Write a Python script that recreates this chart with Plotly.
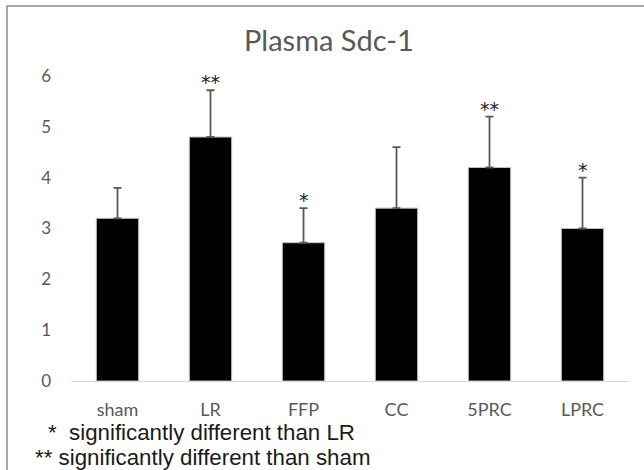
import plotly.graph_objects as go

categories = ["sham", "LR", "FFP", "CC", "5PRC", "LPRC"]
means = [3.2, 4.8, 2.72, 3.4, 4.2, 3.0]
errors = [0.6, 0.92, 0.68, 1.2, 1.0, 1.0]
sig_marks = ["", "**", "*", "", "**", "*"]
y_ticks = [0, 1, 2, 3, 4, 5, 6]
title_text = "Plasma Sdc-1"
footnotes = ["*  significantly different than LR", "** significantly different than sham"]

W, H = 644, 470
L, R, T, B = 71, 15, 76, 89
pw, ph = W - L - R, H - T - B

fig = go.Figure()
fig.add_trace(go.Bar(
    x=categories, y=means,
    marker=dict(color="black", line=dict(color="#bfbfbf", width=1)),
    error_y=dict(type="data", array=errors, arrayminus=[0]*len(errors), symmetric=False,
                 color="#595959", thickness=1.8, width=4),
    width=0.455,
))

for c, m, e, s in zip(categories, means, errors, sig_marks):
    if s:
        fig.add_annotation(x=c, y=m + e, text=s, showarrow=False, yshift=8, yanchor="middle",
                           font=dict(size=19, color="#222222", family="DejaVu Sans"))

def px_x(p):
    return (p - L) / pw

def px_y(p):
    return (H - B - p) / ph

fig.add_annotation(xref="paper", yref="paper", x=px_x(329), y=px_y(40), text=title_text,
                   showarrow=False, font=dict(size=29, color="#595959", family="Lato"),
                   xanchor="center", yanchor="middle")
fig.add_annotation(xref="paper", yref="paper", x=px_x(46), y=px_y(432), text=footnotes[0],
                   showarrow=False, font=dict(size=22.3, color="#1a1a1a", family="Liberation Sans"),
                   xanchor="left", yanchor="middle")
fig.add_annotation(xref="paper", yref="paper", x=px_x(33), y=px_y(457), text=footnotes[1],
                   showarrow=False, font=dict(size=22.3, color="#1a1a1a", family="Liberation Sans"),
                   xanchor="left", yanchor="middle")

fig.add_shape(type="rect", xref="paper", yref="paper",
              x0=px_x(7), x1=px_x(670), y0=px_y(500), y1=px_y(6),
              line=dict(color="#8c8c8c", width=1.5), fillcolor="rgba(0,0,0,0)", layer="below")

fig.update_layout(
    width=W, height=H,
    margin=dict(l=L, r=R, t=T, b=B),
    paper_bgcolor="white", plot_bgcolor="white",
    showlegend=False,
    font=dict(family="Lato", color="#595959", size=14),
)
fig.update_xaxes(showgrid=False, showline=True, linecolor="#d9d9d9", linewidth=1.2,
                 ticks="", tickfont=dict(size=18, color="#595959"), ticklabelstandoff=12)
fig.update_yaxes(range=[0, 6], tickvals=y_ticks, showgrid=False, showline=False, zeroline=False,
                 ticks="", tickfont=dict(size=17, color="#595959"), ticklabelstandoff=19)

fig.write_html("out.html", config={"displayModeBar": False},
               post_script="document.body.style.margin='0';")
